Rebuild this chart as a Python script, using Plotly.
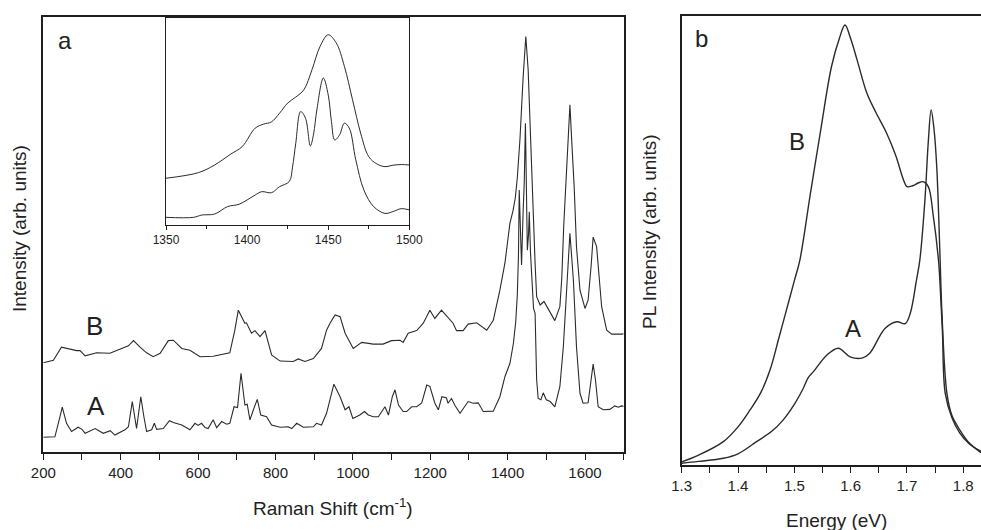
import plotly.graph_objects as go

# ---------------- Panel a : Raman spectra ----------------
raman_B_x = [200, 226, 247, 260, 286, 295, 308, 338, 372, 420, 433, 450, 467, 484, 502, 523, 536, 558, 579, 605,
             639, 682, 695, 704, 717, 721, 725, 738, 747, 760, 773, 790, 812, 846, 859, 876, 898, 919, 932, 941,
             954, 967, 980, 990, 1001, 1023, 1053, 1078, 1100, 1122, 1130, 1143, 1165, 1182, 1199, 1212, 1229,
             1259, 1268, 1285, 1298, 1320, 1346, 1363, 1380, 1393, 1406, 1414, 1420, 1425, 1432, 1440, 1447,
             1453, 1458, 1462, 1466, 1471, 1475, 1484, 1494, 1505, 1522, 1535, 1540, 1545, 1550, 1556, 1561,
             1566, 1572, 1578, 1587, 1600, 1608, 1616, 1621, 1630, 1643, 1656, 1669, 1695, 1700]
raman_B_y = [20.5, 21.1, 24.1, 23.8, 23.3, 23.3, 22.1, 22.8, 22.7, 24.4, 25.6, 24.1, 22.8, 21.9, 22.7, 25.6, 25.7,
             23.8, 23.4, 21.9, 22.0, 22.8, 28.0, 32.6, 30.2, 29.6, 29.7, 27.3, 27.9, 26.5, 27.9, 22.3, 20.9, 20.8,
             21.4, 20.8, 21.5, 23.8, 28.0, 29.6, 31.5, 31.1, 27.3, 25.5, 23.8, 25.2, 24.8, 24.8, 25.6, 25.7, 25.2,
             27.3, 27.9, 29.6, 32.6, 30.7, 32.6, 29.6, 27.9, 27.9, 29.4, 29.7, 28.0, 30.3, 37.2, 43.4, 52.6, 55.5,
             58.5, 63.0, 72.0, 86.0, 95.5, 88.0, 75.0, 62.5, 52.0, 43.4, 35.7, 33.8, 34.6, 33.0, 30.2, 33.4, 40.0,
             52.0, 61.0, 71.0, 79.8, 71.0, 61.0, 47.2, 37.2, 33.0, 34.9, 43.0, 49.4, 47.2, 33.4, 28.0, 27.1, 27.1,
             27.2]

raman_A_x = [200, 230, 243, 249, 260, 273, 290, 300, 308, 334, 355, 373, 385, 411, 420, 430, 441, 452, 460, 467,
             480, 487, 493, 510, 526, 536, 558, 579, 592, 600, 609, 618, 626, 639, 648, 661, 674, 682, 693, 702,
             711, 721, 727, 734, 743, 753, 762, 777, 790, 812, 833, 842, 855, 872, 898, 906, 919, 932, 951, 967,
             980, 990, 1000, 1018, 1030, 1040, 1053, 1066, 1083, 1092, 1102, 1109, 1118, 1130, 1139, 1152, 1165,
             1178, 1191, 1199, 1212, 1221, 1230, 1242, 1246, 1255, 1264, 1277, 1298, 1311, 1324, 1337, 1363, 1380,
             1393, 1406, 1415, 1421, 1425, 1428, 1430, 1433, 1436, 1440, 1443, 1446, 1449, 1451, 1454, 1456, 1459,
             1463, 1467, 1471, 1475, 1479, 1486, 1492, 1500, 1510, 1522, 1535, 1544, 1553, 1561, 1570, 1578, 1587,
             1595, 1608, 1615, 1621, 1627, 1634, 1647, 1664, 1677, 1686, 1694, 1700]
raman_A_y = [3.4, 3.5, 8.1, 10.3, 6.6, 4.7, 5.7, 5.2, 4.3, 5.4, 4.3, 4.9, 3.9, 5.1, 5.8, 11.6, 5.4, 12.7, 8.1, 4.7,
             5.1, 6.6, 5.2, 5.4, 7.2, 6.8, 6.2, 5.1, 6.6, 6.1, 6.6, 5.6, 5.4, 7.4, 5.6, 7.0, 6.4, 6.6, 10.4, 10.2,
             18.1, 10.8, 11.0, 7.4, 9.7, 12.1, 8.5, 8.1, 6.2, 5.7, 5.8, 5.4, 6.6, 5.7, 5.8, 6.6, 6.2, 8.9, 15.6, 12.7,
             9.7, 10.4, 7.7, 8.5, 9.3, 8.5, 8.1, 8.1, 10.4, 8.5, 12.7, 14.3, 10.8, 9.3, 9.3, 10.4, 10.4,
             11.3, 15.4, 15.1, 11.2, 9.7, 12.7, 12.4, 11.2, 12.3, 10.7, 8.9, 11.6, 11.2, 11.3, 9.3, 9.4, 12.7,
             17.3, 20.4, 25.0, 30.0, 36.0, 45.0, 60.2, 50.0, 43.0, 55.0, 62.0, 75.6, 58.0, 46.4, 50.0, 55.2, 46.0,
             38.0, 33.0, 31.9, 16.6, 12.3, 12.0, 13.6, 12.0, 11.6, 10.4, 15.0, 24.2, 38.0, 50.3, 39.5, 24.2, 13.5,
             11.2, 11.3, 16.6, 20.2, 16.6, 10.4, 9.7, 9.8, 10.6, 10.3, 10.6, 10.5]

# inset (1350-1500 cm-1)
inset_B_x = [1350, 1370, 1380, 1390, 1397, 1405, 1410, 1415, 1420, 1425, 1430, 1435, 1440, 1445, 1450, 1455,
             1460, 1465, 1470, 1475, 1480, 1485, 1490, 1495, 1500]
inset_B_y = [22.6, 25.3, 29.0, 34.3, 37.9, 46.8, 48.7, 49.8, 54.0, 58.9, 61.8, 65.3, 75.0, 86.3, 91.9, 87.9,
             76.6, 60.5, 44.4, 33.0, 29.5, 28.2, 28.9, 29.2, 29.0]
inset_A_x = [1350, 1367, 1372, 1380, 1388, 1395, 1400, 1405, 1409, 1415, 1420, 1426, 1428, 1430, 1433, 1436,
             1439, 1441, 1443, 1447, 1450, 1452, 1454, 1457, 1460, 1463, 1467, 1472, 1478, 1485, 1490, 1495, 1500]
inset_A_y = [3.7, 3.7, 4.8, 5.3, 8.9, 10.0, 12.1, 14.5, 16.1, 15.6, 18.5, 21.0, 28.0, 39.5, 54.8, 51.6,
             38.2, 44.0, 55.6, 71.0, 62.9, 50.0, 41.1, 43.5, 49.2, 46.8, 31.5, 16.9, 8.9, 5.6, 6.5, 7.9, 7.3]

# ---------------- Panel b : PL spectra ----------------
pl_A_x = [1.30, 1.33, 1.374, 1.40, 1.433, 1.46, 1.48, 1.50, 1.516, 1.525, 1.534, 1.558, 1.578, 1.599, 1.620,
          1.634, 1.661, 1.682, 1.697, 1.706, 1.717, 1.723, 1.732, 1.738, 1.743, 1.748, 1.753, 1.759, 1.762,
          1.771, 1.78, 1.794, 1.81, 1.832]
pl_A_y = [0.004, 0.008, 0.015, 0.025, 0.052, 0.075, 0.100, 0.135, 0.171, 0.195, 0.208, 0.245, 0.260, 0.241,
          0.238, 0.249, 0.304, 0.319, 0.315, 0.338, 0.412, 0.457, 0.590, 0.720, 0.791, 0.750, 0.664, 0.457,
          0.345, 0.160, 0.110, 0.078, 0.050, 0.027]
pl_B_x = [1.30, 1.33, 1.374, 1.40, 1.421, 1.44, 1.457, 1.472, 1.486, 1.50, 1.510, 1.528, 1.546, 1.566, 1.58,
          1.590, 1.60, 1.612, 1.629, 1.645, 1.664, 1.68, 1.694, 1.700, 1.71, 1.72, 1.729, 1.738, 1.747, 1.756,
          1.759, 1.763, 1.768, 1.78, 1.794, 1.81, 1.832]
pl_B_y = [0.007, 0.022, 0.052, 0.085, 0.122, 0.160, 0.212, 0.280, 0.345, 0.410, 0.457, 0.600, 0.739, 0.887,
          0.950, 0.980, 0.950, 0.900, 0.828, 0.785, 0.739, 0.690, 0.635, 0.620, 0.622, 0.628, 0.631, 0.620,
          0.553, 0.457, 0.400, 0.300, 0.160, 0.105, 0.071, 0.048, 0.030]

LINE = "#2b2b2b"
AX = "#1e1e1e"
FONT = "Liberation Sans, Arial, sans-serif"
W, H = 981, 530

fig = go.Figure()
fig.add_trace(go.Scatter(x=raman_B_x, y=raman_B_y, mode="lines", line=dict(color=LINE, width=1.1),
                         xaxis="x", yaxis="y", showlegend=False))
fig.add_trace(go.Scatter(x=raman_A_x, y=raman_A_y, mode="lines", line=dict(color=LINE, width=1.1),
                         xaxis="x", yaxis="y", showlegend=False))
fig.add_trace(go.Scatter(x=inset_B_x, y=inset_B_y, mode="lines", line=dict(color=LINE, width=1, shape="spline"),
                         xaxis="x3", yaxis="y3", showlegend=False))
fig.add_trace(go.Scatter(x=inset_A_x, y=inset_A_y, mode="lines", line=dict(color=LINE, width=1, shape="spline"),
                         xaxis="x3", yaxis="y3", showlegend=False))
fig.add_trace(go.Scatter(x=pl_B_x, y=pl_B_y, mode="lines", line=dict(color=LINE, width=1.4, shape="spline"),
                         xaxis="x2", yaxis="y2", showlegend=False))
fig.add_trace(go.Scatter(x=pl_A_x, y=pl_A_y, mode="lines", line=dict(color=LINE, width=1.4, shape="spline"),
                         xaxis="x2", yaxis="y2", showlegend=False))

def px(x):
    return x / W

def py(y):
    return (H - y) / H

common_line = dict(showline=True, linecolor=AX, linewidth=1.5, showgrid=False, zeroline=False, automargin=False)

fig.update_layout(
    width=W, height=H, margin=dict(l=0, r=0, t=0, b=0, autoexpand=False),
    paper_bgcolor="white", plot_bgcolor="white",
    font=dict(family=FONT, color="#222"),
    xaxis=dict(domain=[px(43.3), px(623.7)], range=[200, 1700], anchor="y", mirror=True,
               ticks="outside", ticklen=6, tickwidth=1.2, tickcolor=AX, dtick=200, tick0=0,
               tickfont=dict(size=15, family=FONT),
               minor=dict(dtick=100, ticks="outside", ticklen=6, tickwidth=1.2, tickcolor=AX),
               **common_line),
    yaxis=dict(domain=[py(452), py(17)], range=[0, 100], anchor="x", mirror=True,
               showticklabels=False, ticks="", **common_line),
    xaxis2=dict(domain=[px(681.7), 1.0], range=[1.3, 1.8316], anchor="y2", mirror=True,
                ticks="outside", ticklen=6, tickwidth=1.2, tickcolor=AX, dtick=0.1, tick0=1.3,
                tickformat=".1f", tickfont=dict(size=15, family=FONT),
                minor=dict(dtick=0.05, ticks="outside", ticklen=6, tickwidth=1.2, tickcolor=AX),
                **common_line),
    yaxis2=dict(domain=[py(465), py(16)], range=[0, 1], anchor="x2", mirror=False,
                showticklabels=False, ticks="", **common_line),
    xaxis3=dict(domain=[px(166), px(409.3)], range=[1350, 1500], anchor="y3", mirror=True,
                ticks="outside", ticklen=4, tickwidth=1, tickcolor=AX, dtick=50, tick0=1350,
                tickfont=dict(size=12, family=FONT),
                minor=dict(dtick=25, ticks="outside", ticklen=3, tickwidth=1, tickcolor=AX),
                showline=True, linecolor=AX, linewidth=1, showgrid=False, zeroline=False, automargin=False),
    yaxis3=dict(domain=[py(225), py(18)], range=[0, 100], anchor="x3", mirror=True,
                showticklabels=False, ticks="",
                showline=True, linecolor=AX, linewidth=1, showgrid=False, zeroline=False, automargin=False),
)

annots = [
    dict(text="a", x=256, y=94.7, xref="x", yref="y", font=dict(size=24)),
    dict(text="B", x=332, y=28.9, xref="x", yref="y", font=dict(size=26)),
    dict(text="A", x=337, y=10.6, xref="x", yref="y", font=dict(size=26)),
    dict(text="b", x=1.336, y=0.951, xref="x2", yref="y2", font=dict(size=24)),
    dict(text="B", x=1.505, y=0.72, xref="x2", yref="y2", font=dict(size=24)),
    dict(text="A", x=1.604, y=0.305, xref="x2", yref="y2", font=dict(size=24)),
    dict(text="Raman Shift (cm<sup>-1</sup>)", x=px(333), y=py(507), xref="paper", yref="paper",
         font=dict(size=19)),
    dict(text="Energy (eV)", x=px(836), y=py(520), xref="paper", yref="paper", font=dict(size=19)),
    dict(text="Intensity (arb. units)", x=px(19), y=py(229), xref="paper", yref="paper",
         textangle=-90, font=dict(size=19)),
    dict(text="PL Intensity (arb. units)", x=px(649), y=py(232), xref="paper", yref="paper",
         textangle=-90, font=dict(size=19)),
]
for a in annots:
    a.update(showarrow=False, xanchor="center", yanchor="middle")
    a["font"].update(family=FONT, color="#222")
fig.update_layout(annotations=annots)

fig.write_html("out.html", config={"displayModeBar": False},
               post_script="document.body.style.margin='0px';document.body.style.overflow='hidden';")
